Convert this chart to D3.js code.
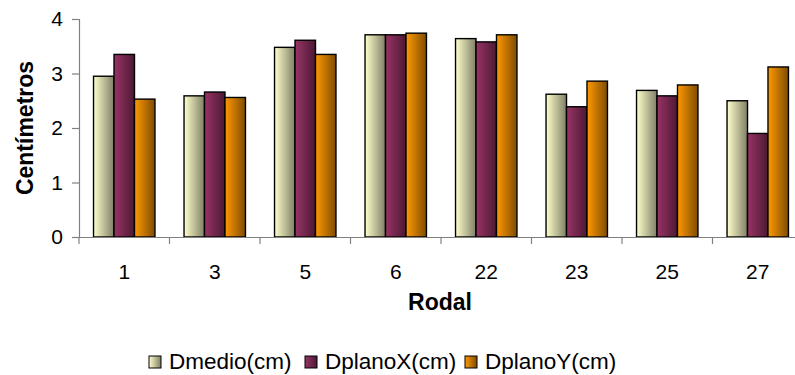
<!DOCTYPE html>
<html>
<head>
<meta charset="utf-8">
<script src="https://cdn.jsdelivr.net/npm/d3@7"></script>
<style>
body { margin: 0; background: #fff; }
svg text { font-family: "Liberation Sans", Arial, sans-serif; }
</style>
</head>
<body>
<div class="chart"></div>
<script>
const categories = ["1", "3", "5", "6", "22", "23", "25", "27"];
const series = ["Dmedio(cm)", "DplanoX(cm)", "DplanoY(cm)"];
const dmedio = [2.95, 2.59, 3.48, 3.71, 3.64, 2.62, 2.69, 2.50];
const dplanoX = [3.35, 2.66, 3.61, 3.71, 3.58, 2.39, 2.59, 1.90];
const dplanoY = [2.53, 2.56, 3.35, 3.74, 3.71, 2.86, 2.79, 3.12];
const yTicks = [0, 1, 2, 3, 4];

const values = [dmedio, dplanoX, dplanoY];
const grads = [["#ffffcc", "#7f7f66"], ["#993366", "#4c1933"], ["#ff9900", "#7f4c00"]];

const w = 795, h = 375,
  plotLeft = 79, plotRight = 803, plotTop = 19, plotBottom = 237;

const svg = d3.select(".chart").append("svg")
  .attr("width", w)
  .attr("height", h);

const defs = svg.append("defs");
grads.forEach((g, i) => {
  const lg = defs.append("linearGradient")
    .attr("id", "g" + i)
    .attr("x1", "0%").attr("x2", "100%").attr("y1", "0%").attr("y2", "0%");
  lg.append("stop").attr("offset", "0%").attr("stop-color", g[0]);
  lg.append("stop").attr("offset", "100%").attr("stop-color", g[1]);
});

const x = d3.scaleBand()
  .domain(categories)
  .range([plotLeft, plotRight]);
const x1 = d3.scaleBand()
  .domain(series)
  .range([0, x.bandwidth()])
  .paddingInner(0)
  .paddingOuter(0.71);
const y = d3.scaleLinear()
  .domain([0, 4])
  .range([plotBottom, plotTop]);

// bars
series.forEach((s, si) => {
  svg.append("g").selectAll("rect")
    .data(categories)
    .enter()
    .append("rect")
    .attr("x", (d) => x(d) + x1(s))
    .attr("y", (d, i) => y(values[si][i]))
    .attr("width", x1.bandwidth())
    .attr("height", (d, i) => plotBottom - y(values[si][i]))
    .attr("fill", "url(#g" + si + ")")
    .attr("stroke", "#000")
    .attr("stroke-width", 1.4);
});

// y axis
const yAxis = d3.axisLeft(y).tickValues(yTicks).tickFormat(d3.format("d")).tickSize(7).tickPadding(9);
const gy = svg.append("g")
  .attr("transform", "translate(" + plotLeft + ",0)")
  .call(yAxis);
gy.attr("font-family", null).attr("font-size", null);
gy.select(".domain").attr("stroke", "#808080").attr("stroke-width", 1.2);
gy.selectAll(".tick line").attr("stroke", "#808080").attr("stroke-width", 1.2);
gy.selectAll(".tick text").style("font-size", "21px").attr("fill", "#000");

// x axis
const xAxis = d3.axisBottom(x).tickSize(0);
const gx = svg.append("g")
  .attr("transform", "translate(0," + plotBottom + ")")
  .call(xAxis);
gx.attr("font-family", null).attr("font-size", null);
gx.select(".domain").attr("stroke", "#808080").attr("stroke-width", 1.2);
gx.selectAll(".tick text")
  .attr("y", 42)
  .attr("dy", null)
  .style("font-size", "21px")
  .attr("fill", "#000");
gx.selectAll(".bound")
  .data(categories)
  .enter()
  .append("line")
  .attr("x1", (d) => x(d))
  .attr("x2", (d) => x(d))
  .attr("y1", 0)
  .attr("y2", 7)
  .attr("stroke", "#808080")
  .attr("stroke-width", 1.2);

// axis titles
svg.append("text")
  .attr("transform", "rotate(-90)")
  .attr("x", -128)
  .attr("y", 33)
  .attr("text-anchor", "middle")
  .style("font-size", "23px")
  .style("font-weight", "bold")
  .text("Centímetros");
svg.append("text")
  .attr("x", 440)
  .attr("y", 310)
  .attr("text-anchor", "middle")
  .style("font-size", "23px")
  .style("font-weight", "bold")
  .text("Rodal");

// legend
const legX = [149, 305, 465];
const leg = svg.append("g").selectAll("g")
  .data(series)
  .enter()
  .append("g")
  .attr("transform", (d, i) => "translate(" + legX[i] + ",356)");
leg.append("rect")
  .attr("width", 12).attr("height", 12)
  .attr("fill", (d, i) => "url(#g" + i + ")")
  .attr("stroke", "#000")
  .attr("stroke-width", 1);
leg.append("text")
  .attr("x", 20)
  .attr("y", 12.5)
  .style("font-size", "22.5px")
  .text((d) => d);
</script>
</body>
</html>
